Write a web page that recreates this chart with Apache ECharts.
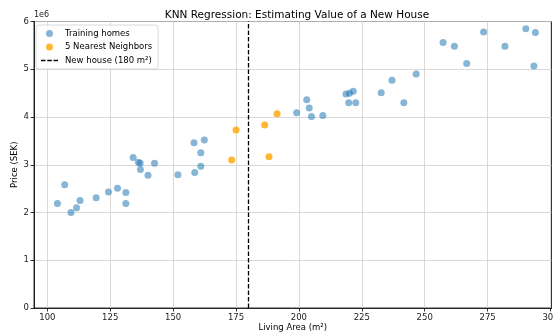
<!DOCTYPE html>
<html>
<head>
<meta charset="utf-8">
<script src="https://cdn.jsdelivr.net/npm/echarts@6/dist/echarts.min.js"></script>
<style>
  html, body { margin: 0; padding: 0; background: #fff; }
  #chart { width: 553px; height: 336px; }
</style>
</head>
<body>
<div id="chart"></div>
<script>
// Training homes: living area (m²) and price (SEK)
const trainArea = [104.0, 106.9, 109.4, 111.6, 113.0, 119.4, 124.3, 127.9, 131.2, 131.2,
  134.1, 136.2, 136.9, 137.0, 140.0, 142.6, 151.9, 158.3, 158.6, 161.0, 161.0, 162.4,
  199.1, 203.1, 204.1, 205.0, 209.5, 218.7, 219.8, 220.1, 221.6, 222.6,
  232.7, 237.0, 241.7, 246.6, 257.3, 261.8, 266.7, 273.4, 281.9, 290.2, 293.4, 294.0];
const trainPrice = [2.19, 2.58, 2.00, 2.10, 2.25, 2.31, 2.43, 2.51, 2.42, 2.19,
  3.15, 3.05, 3.03, 2.90, 2.78, 3.03, 2.79, 3.46, 2.84, 3.25, 2.97, 3.52,
  4.09, 4.36, 4.19, 4.01, 4.03, 4.48, 4.30, 4.50, 4.54, 4.30,
  4.51, 4.77, 4.30, 4.90, 5.56, 5.48, 5.12, 5.78, 5.48, 5.85, 5.07, 5.77].map(v => v * 1e6);

// The five nearest neighbours of the new house
const nnArea = [173.3, 175.0, 186.4, 188.1, 191.3];
const nnPrice = [3.10, 3.73, 3.83, 3.17, 4.07].map(v => v * 1e6);

const newHouseArea = 180;
const xTicks = [100, 125, 150, 175, 200, 225, 250, 275, 300];

const FONT = 'DejaVu Sans';
const chart = echarts.init(document.getElementById('chart'), null, { renderer: 'canvas' });

chart.setOption({
  animation: false,
  textStyle: { fontFamily: FONT },
  title: {
    text: 'KNN Regression: Estimating Value of a New House',
    left: 292, top: 5, textAlign: 'center',
    textStyle: { fontFamily: FONT, fontSize: 10.5, fontWeight: 'normal', color: '#000' }
  },
  grid: {
    left: 34, right: 1.5, top: 21.5, bottom: 28,
    outerBoundsMode: 'none', containLabel: false,
    show: true, borderColor: '#000', borderWidth: 0.8, backgroundColor: 'transparent'
  },
  xAxis: {
    type: 'value', min: 94.7, max: 300.4,
    name: 'Living Area (m²)', nameLocation: 'middle', nameGap: 15, nameMoveOverlap: false,
    nameTextStyle: { fontFamily: FONT, fontSize: 8.5, color: '#000' },
    axisLine: { show: true, onZero: false, lineStyle: { color: '#000', width: 0.8 } },
    axisTick: { show: true, length: 3.5, customValues: xTicks, lineStyle: { color: '#000', width: 0.8 } },
    axisLabel: { customValues: xTicks, fontFamily: FONT, fontSize: 8.5, color: '#222', margin: 5 },
    splitLine: { show: true, lineStyle: { color: '#cfcfcf', width: 0.8 } }
  },
  yAxis: {
    type: 'value', min: 0, max: 6e6, interval: 1e6,
    name: 'Price (SEK)', nameLocation: 'middle', nameGap: 15, nameRotate: 90, nameMoveOverlap: false,
    nameTextStyle: { fontFamily: FONT, fontSize: 8.5, color: '#000' },
    axisLine: { show: true, lineStyle: { color: '#000', width: 0.8 } },
    axisTick: { show: true, length: 3.5, lineStyle: { color: '#000', width: 0.8 } },
    axisLabel: { fontFamily: FONT, fontSize: 8.5, color: '#222', margin: 5,
      formatter: v => String(Math.round(v / 1e6)) },
    splitLine: { show: true, lineStyle: { color: '#cfcfcf', width: 0.8 } }
  },
  graphic: [
    { type: 'text', left: 34, top: 11, style: { text: '1e6', font: '8px "DejaVu Sans"', fill: '#222' } }
  ],
  legend: {
    orient: 'vertical', left: 36, top: 25,
    itemWidth: 17, itemHeight: 7, itemGap: 4.5,
    padding: [4, 6, 4, 5],
    backgroundColor: 'rgba(255,255,255,0.85)',
    borderColor: '#d0d0d0', borderWidth: 0.8, borderRadius: 3,
    textStyle: { fontFamily: FONT, fontSize: 8.5, color: '#000', padding: [0, 0, 0, 2] },
    data: [
      { name: 'Training homes', icon: 'circle' },
      { name: '5 Nearest Neighbors', icon: 'circle' },
      { name: 'New house (180 m²)', icon: 'path://M0,0h4.5v1.4h-4.5zM6.3,0h4.5v1.4h-4.5zM12.6,0h4.4v1.4h-4.4z' }
    ]
  },
  series: [
    {
      name: 'Training homes', type: 'scatter', symbolSize: 7,
      itemStyle: { color: 'rgba(31,119,180,0.68)' },
      data: trainArea.map((a, i) => [a, trainPrice[i]])
    },
    {
      name: '5 Nearest Neighbors', type: 'scatter', symbolSize: 7,
      itemStyle: { color: '#ffa500' },
      data: nnArea.map((a, i) => [a, nnPrice[i]])
    },
    {
      name: 'New house (180 m²)', type: 'line', data: [],
      itemStyle: { color: '#000' },
      lineStyle: { color: '#000' },
      markLine: {
        silent: true, symbol: ['none', 'none'], label: { show: false },
        lineStyle: { color: '#000', type: [4.5, 2], width: 1.3 },
        data: [{ xAxis: newHouseArea }]
      }
    }
  ]
});
</script>
</body>
</html>
